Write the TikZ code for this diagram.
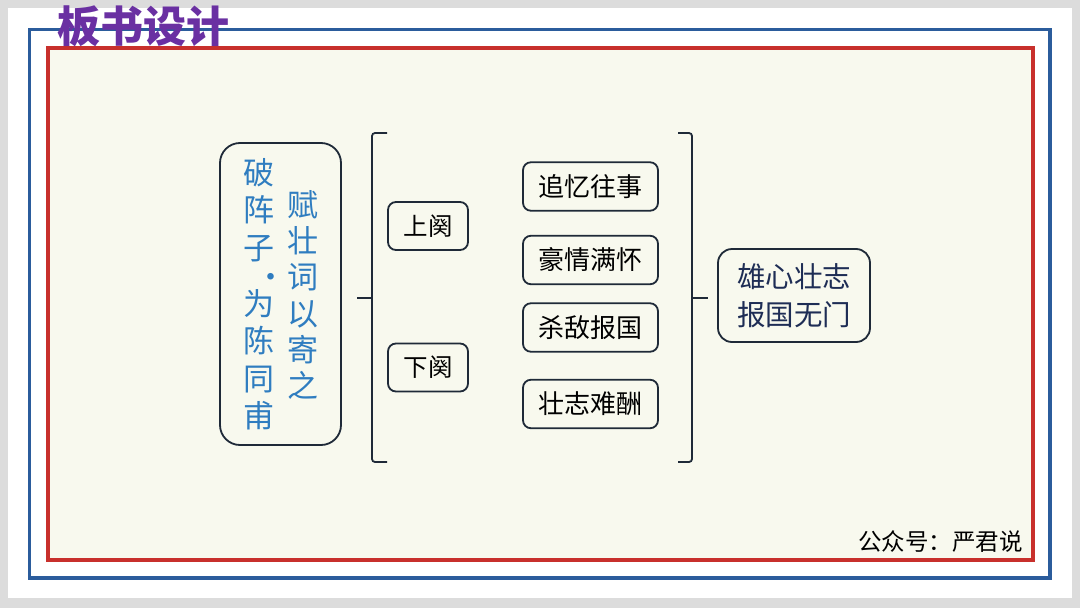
\documentclass[tikz,border=0pt]{standalone}
\usepackage{fontspec}
\newfontfamily\cjk{Noto Sans CJK SC}
\definecolor{bgray}{HTML}{DCDCDC}
\definecolor{fblue}{HTML}{2B5C9C}
\definecolor{fred}{HTML}{C8302C}
\definecolor{cream}{HTML}{F8F9EE}
\definecolor{ttl}{HTML}{6A30A2}
\definecolor{vblue}{HTML}{2F7DC0}
\definecolor{navy}{HTML}{1E2D55}
\definecolor{edge}{HTML}{1F2A38}
\tikzset{
  rbox/.style={draw=edge, line width=1.8pt, rounded corners=8pt, fill=cream, inner sep=0pt},
  brace/.style={draw=edge, line width=1.8pt, rounded corners=3pt},
  vtext/.style={text=vblue, align=center, inner sep=0pt, font=\cjk\fontsize{31}{37.5}\selectfont},
}
\begin{document}
\begin{tikzpicture}[x=1pt,y=-1pt]
\fill[bgray] (0,0) rectangle (1080,608);
\fill[white] (8,8) rectangle (1072,598);
\draw[fblue, line width=3.5pt] (29.5,29.5) rectangle (1050,578);
\draw[fred, line width=3.5pt, fill=cream] (48,48) rectangle (1033,560);
\node[text=ttl, font=\cjk\bfseries\fontsize{43}{43}\selectfont, inner sep=0pt] (title) at (143,26) {板书设计};
% left title box
\node[rbox, rounded corners=20pt, minimum width=121pt, minimum height=302pt] (main) at (280.5,294) {};
\node[vtext] (col1) at (259,294) {破\\阵\\子\rlap{\hspace{-3.5pt}\makebox[0pt]{\raisebox{-29pt}{·}}}\\为\\陈\\同\\甫};
\node[vtext, font=\cjk\fontsize{31}{36.2}\selectfont] (col2) at (303,295) {赋\\壮\\词\\以\\寄\\之};
% halves
\tikzset{sbox/.style={rbox, minimum width=80pt, minimum height=48pt, font=\cjk\fontsize{24.5}{26}\selectfont, text=black}}
\node[sbox] (up) at (428,226) {上阕};
\node[sbox] (down) at (428,367.5) {下阕};
\tikzset{pbox/.style={rbox, minimum width=135pt, minimum height=48.5pt, font=\cjk\fontsize{26}{28}\selectfont, text=black}}
\node[pbox] (p1) at (590.5,186.5) {追忆往事};
\node[pbox] (p2) at (590.5,260) {豪情满怀};
\node[pbox] (p3) at (590.5,327.5) {杀敌报国};
\node[pbox] (p4) at (590.5,404) {壮志难酬};
\node[rbox, rounded corners=14pt, minimum width=152pt, minimum height=93pt, align=center, text=navy, font=\cjk\fontsize{28.5}{38}\selectfont] (res) at (794,295.5) {雄心壮志\\报国无门};
% braces
\coordinate (lb) at (357,298);
\draw[brace] (387,133) -- (372,133) -- (372,462) -- (387,462);
\draw[brace] (lb) -- (372,298);
\coordinate (rb) at (708,298);
\draw[brace] (678,133) -- (692,133) -- (692,462) -- (678,462);
\draw[brace] (692,298) -- (rb);
\node[anchor=east, inner sep=0pt, text=black, font=\cjk\fontsize{23.5}{25}\selectfont] (foot) at (1023,542) {公众号：严君说};
\end{tikzpicture}
\end{document}
